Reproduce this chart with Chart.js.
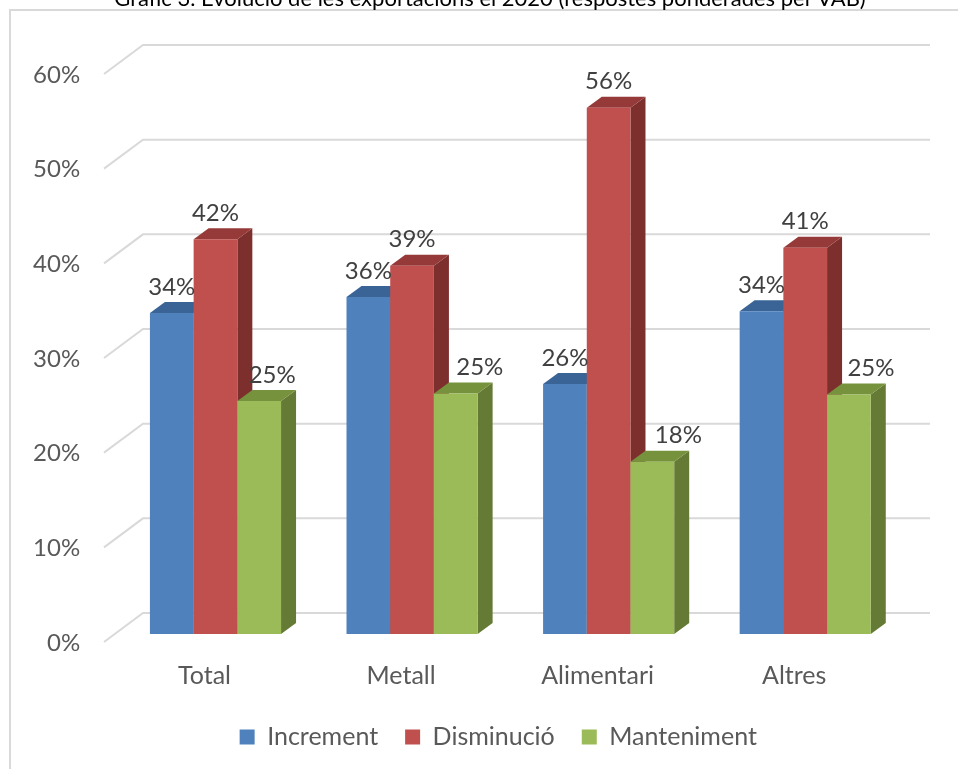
<!DOCTYPE html>
<html>
<head>
<meta charset="utf-8">
<title>Gràfic 3</title>
<script src="https://cdn.jsdelivr.net/npm/chart.js@4"></script>
<style>
    html, body { margin: 0; padding: 0; background: #fff; overflow: hidden; }
    #wrap { position: relative; width: 958px; height: 769px; overflow: hidden; }
    #titol {
        position: absolute; left: 0; top: -16px; width: 980px; text-align: center;
        font: 22px Lato, sans-serif; color: #000; white-space: nowrap;
    }
</style>
</head>
<body>
<div id="wrap">
    <canvas id="exportChart" width="958" height="769"></canvas>
    <div id="titol">Gràfic 3. Evolució de les exportacions el 2020 (respostes ponderades per VAB)</div>
</div>
<script>
const categories = ['Total', 'Metall', 'Alimentari', 'Altres'];
const seriesNames = ['Increment', 'Disminució', 'Manteniment'];
const incrementValues = [33.9, 35.6, 26.4, 34.1];
const disminucioValues = [41.7, 38.9, 55.6, 40.8];
const mantenimentValues = [24.6, 25.4, 18.2, 25.3];
const yTicks = [0, 10, 20, 30, 40, 50, 60];

// Face colours plus the darker top and side of each bar
const frontColors = ['#4f81bd', '#c0504d', '#9bbb59'];
const topColors = ['#3a6496', '#953a38', '#76923c'];
const sideColors = ['#2f5480', '#7d2f2d', '#647a35'];

const DEPTH_X = 15;
const DEPTH_Y = 11;
const FONT = 'Lato, sans-serif';

// Green labels sit off to the right of their bars
const greenLabelShift = [13, 24, 26, 22];

const frame3d = {
    id: 'frame3d',
    // the legend is centred on the page in the original, not on the plot
    afterLayout(chart) {
        chart.legend.left += 46.5;
        chart.legend.right += 46.5;
    },
    beforeDatasetsDraw(chart) {
        const ctx = chart.ctx;
        const yScale = chart.scales.y;
        ctx.save();
        // outer frame
        ctx.strokeStyle = '#d9d9d9';
        ctx.lineWidth = 2;
        ctx.beginPath();
        ctx.moveTo(10, 769);
        ctx.lineTo(10, 10);
        ctx.lineTo(958, 10);
        ctx.stroke();
        // gridlines on the back wall with the slanted bit on the left
        yTicks.forEach(v => {
            const y = yScale.getPixelForValue(v);
            ctx.beginPath();
            ctx.moveTo(104, y + 8);
            ctx.lineTo(143, y - 21);
            ctx.lineTo(930, y - 21);
            ctx.stroke();
        });
        ctx.restore();
    },
    // bars are painted by hand below so the first series goes under the later ones
    beforeDatasetDraw() {
        return false;
    },
    afterDatasetsDraw(chart) {
        const ctx = chart.ctx;
        seriesNames.forEach((name, i) => {
            chart.getDatasetMeta(i).data.forEach(bar => {
                const left = bar.x - bar.width / 2;
                const right = bar.x + bar.width / 2;
                ctx.fillStyle = sideColors[i];
                ctx.beginPath();
                ctx.moveTo(right, bar.y);
                ctx.lineTo(right + DEPTH_X, bar.y - DEPTH_Y);
                ctx.lineTo(right + DEPTH_X, bar.base - DEPTH_Y);
                ctx.lineTo(right, bar.base);
                ctx.closePath();
                ctx.fill();
                ctx.fillStyle = topColors[i];
                ctx.beginPath();
                ctx.moveTo(left, bar.y);
                ctx.lineTo(left + DEPTH_X, bar.y - DEPTH_Y);
                ctx.lineTo(right + DEPTH_X, bar.y - DEPTH_Y);
                ctx.lineTo(right, bar.y);
                ctx.closePath();
                ctx.fill();
                bar.draw(ctx, chart.chartArea);
            });
        });
        // value labels
        ctx.save();
        ctx.font = '24px ' + FONT;
        ctx.fillStyle = '#404040';
        ctx.textAlign = 'center';
        ctx.textBaseline = 'middle';
        seriesNames.forEach((name, i) => {
            const values = chart.data.datasets[i].data;
            chart.getDatasetMeta(i).data.forEach((bar, k) => {
                const shift = i === 2 ? greenLabelShift[k] : 0;
                ctx.fillText(Math.round(values[k]) + '%', bar.x + shift, bar.y - 26);
            });
        });
        ctx.restore();
    }
};

const exportChart = new Chart(document.getElementById('exportChart'), {
    type: 'bar',
    data: {
        labels: categories,
        datasets: [
            { label: seriesNames[0], data: incrementValues, backgroundColor: frontColors[0] },
            { label: seriesNames[1], data: disminucioValues, backgroundColor: frontColors[1] },
            { label: seriesNames[2], data: mantenimentValues, backgroundColor: frontColors[2] }
        ]
    },
    options: {
        responsive: false,
        animation: false,
        layout: { padding: { left: 0, right: 54.5, top: 66, bottom: 9.5 } },
        datasets: { bar: { categoryPercentage: 0.667, barPercentage: 1 } },
        plugins: {
            title: { display: false },
            tooltip: { enabled: false },
            legend: {
                position: 'bottom',
                labels: {
                    boxWidth: 15,
                    boxHeight: 15,
                    padding: 27,
                    color: '#595959',
                    font: { family: FONT, size: 25 }
                }
            }
        },
        scales: {
            x: {
                grid: { display: false },
                border: { display: false },
                afterFit(scale) { scale.height = 63.5; },
                ticks: {
                    color: '#595959',
                    labelOffset: -11,
                    padding: 19,
                    maxRotation: 0,
                    font: { family: FONT, size: 25 }
                }
            },
            y: {
                min: 0,
                max: 60,
                grid: { display: false },
                border: { display: false },
                afterFit(scale) { scale.width = 117.2; },
                afterBuildTicks(scale) { scale.ticks = yTicks.map(v => ({ value: v })); },
                ticks: {
                    color: '#595959',
                    labelOffset: 9,
                    padding: 29,
                    callback: v => v + '%',
                    font: { family: FONT, size: 24 }
                }
            }
        }
    },
    plugins: [frame3d]
});
</script>
</body>
</html>
